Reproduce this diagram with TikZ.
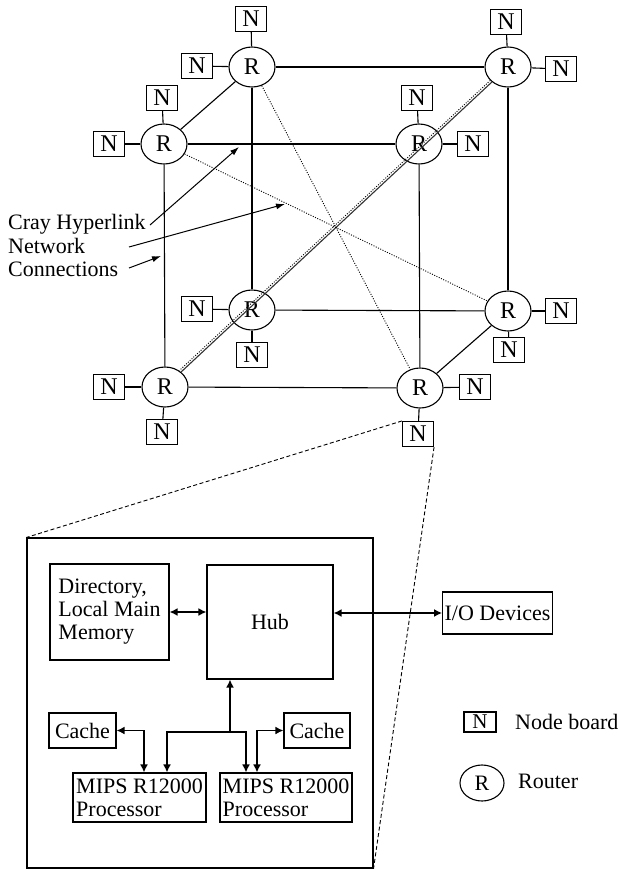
\documentclass[tikz,border=0pt]{standalone}
\usepackage{fontspec}
\setmainfont{Liberation Serif}
\usetikzlibrary{shapes.geometric,arrows.meta,calc}

\begin{document}
\begin{tikzpicture}[x=1pt,y=-1pt,
  txt/.style={font=\fontsize{22}{23}\selectfont},
  big/.style={font=\fontsize{24}{24}\selectfont},
  router/.style={ellipse,draw,line width=1.1pt,fill=white,minimum width=46pt,minimum height=40pt,inner sep=0pt,big},
  board/.style={rectangle,draw,line width=1.1pt,fill=white,minimum width=31pt,minimum height=25pt,inner sep=0pt,big},
  cubeedge/.style={line width=1.1pt},
  hyper/.style={line width=0.9pt,dash pattern=on 1pt off 1.5pt},
  zoomline/.style={line width=0.9pt,dash pattern=on 4pt off 2.5pt},
  blk/.style={rectangle,draw,line width=1.1pt,inner sep=2pt,txt},
  bus/.style={line width=1.8pt,-{Latex[length=8pt,width=8pt]}},
  bibus/.style={line width=1.8pt,{Latex[length=8pt,width=8pt]}-{Latex[length=8pt,width=8pt]}},
  pointer/.style={line width=1pt,-{Latex[length=9pt,width=6pt]}},
]
\useasboundingbox (0,0) rectangle (619,870);
\fill[white] (0,0) rectangle (619,870);

% ---- routers of the cube ----
\node[router] (TBL) at (252,67)  {R};
\node[router] (TBR) at (508,67)  {R};
\node[router] (TFL) at (164,144) {R};
\node[router] (TFR) at (419,144) {R};
\node[router] (BBL) at (252,310) {R};
\node[router] (BBR) at (508,311) {R};
\node[router] (BFL) at (165,387) {R};
\node[router] (BFR) at (420,388) {R};

% ---- node boards ----
\node[board] (nTBLa) at (251,19)  {N};
\node[board] (nTBLb) at (197,66)  {N};
\node[board] (nTBRa) at (506,22)  {N};
\node[board] (nTBRb) at (561,69)  {N};
\node[board] (nTFLa) at (162,98)  {N};
\node[board] (nTFLb) at (109,144) {N};
\node[board] (nTFRa) at (417,98)  {N};
\node[board] (nTFRb) at (473,144) {N};
\node[board] (nBBLa) at (197,309) {N};
\node[board] (nBBLb) at (252,355) {N};
\node[board] (nBBRa) at (561,311) {N};
\node[board] (nBBRb) at (509,350) {N};
\node[board] (nBFLa) at (109,387) {N};
\node[board] (nBFLb) at (162,432) {N};
\node[board] (nBFRa) at (475,387) {N};
\node[board] (nBFRb) at (418,434) {N};

% router to board links
\foreach \r/\b in {TBL/nTBLa,TBL/nTBLb,TBR/nTBRa,TBR/nTBRb,TFL/nTFLa,TFL/nTFLb,
                   TFR/nTFRa,TFR/nTFRb,BBL/nBBLa,BBL/nBBLb,BBR/nBBRa,BBR/nBBRb,
                   BFL/nBFLa,BFL/nBFLb,BFR/nBFRa,BFR/nBFRb}
  \draw[cubeedge] (\r) -- (\b);

% cube edges
\draw[cubeedge] (TBL) -- (TBR);
\draw[cubeedge] (TFL) -- (TFR);
\draw[cubeedge] (TBL) -- (TFL);
\draw[cubeedge] (BBL) -- (BBR);
\draw[cubeedge] (BFL) -- (BFR);
\draw[cubeedge] (BBR) -- (BFR);
\draw[cubeedge] (TBL) -- (BBL);
\draw[cubeedge] (TBR) -- (BBR);
\draw[cubeedge] (TFL) -- (BFL);
\draw[cubeedge] (TFR) -- (BFR);

% long diagonal through the cube, solid and dotted side by side
\draw[cubeedge,black!80] (TBR) -- (BFL);
\draw[hyper] ([xshift=-1.6pt,yshift=1.6pt]TBR.223) -- ([xshift=-1.6pt,yshift=1.6pt]BFL.43);

% hyperlink diagonals
\draw[hyper] (TBL) -- (BFR);
\draw[hyper] (TFL) -- (BBR);

% ---- label with pointers ----
\node[txt,anchor=base west,inner sep=0pt] (lab1) at (8,229) {Cray Hyperlink};
\node[txt,anchor=base west,inner sep=0pt] (lab2) at (8,253) {Network};
\node[txt,anchor=base west,inner sep=0pt] (lab3) at (8,276) {Connections};
\coordinate (p1s) at (150,225); \coordinate (p1e) at (239,147);
\coordinate (p2s) at (129,247); \coordinate (p2e) at (285,204);
\coordinate (p3s) at (129,268); \coordinate (p3e) at (161,256);
\draw[pointer] (p1s) -- (p1e);
\draw[pointer] (p2s) -- (p2e);
\draw[pointer] (p3s) -- (p3e);

% ---- node board detail ----
\node[draw,line width=1.1pt,minimum width=346pt,minimum height=330pt,inner sep=0pt] (Big) at (200,703) {};
\node[blk,align=left,minimum width=119pt,minimum height=96pt] (Dir) at (109.5,612) {Directory,\\Local Main\\Memory};
\node[blk,minimum width=126pt,minimum height=114pt] (Hub) at (270,622) {Hub};
\node[blk,minimum width=99pt,minimum height=42pt] (IO) at (497.5,613) {I/O Devices};
\node[blk,minimum width=67pt,minimum height=35pt] (C1) at (82.5,730.5) {Cache};
\node[blk,minimum width=66pt,minimum height=35pt] (C2) at (317,730.5) {Cache};
\node[blk,align=left,minimum width=133pt,minimum height=49pt] (M1) at (139.5,797.5) {MIPS R12000\\Processor};
\node[blk,align=left,minimum width=132pt,minimum height=49pt] (M2) at (286,797.5) {MIPS R12000\\Processor};

\draw[bibus] (Dir.east) -- (Dir.east -| Hub.west);
\draw[bibus] (IO.west) -- (IO.west -| Hub.east);
\coordinate (J) at (230,732);
\draw[bus] (J) -- (J |- Hub.south);
\draw[bus] (J) -| (167,0 |- M1.north);
\draw[bus] (J) -| (246,0 |- M2.north);
\draw[bibus] (C1.east) -| (144,0 |- M1.north);
\draw[bibus] (C2.west) -| (257,0 |- M2.north);

% magnification lines
\draw[zoomline] (nBFRb.north west) -- (Big.north west);
\draw[zoomline] (nBFRb.south east) -- (Big.south east);

% ---- legend ----
\node[board,minimum width=32pt,minimum height=20pt,font=\fontsize{21}{22}\selectfont] (LN) at (480,722) {N};
\node[txt,anchor=west,inner sep=0pt] (LNt) at (515,722) {Node board};
\node[router,minimum width=44pt,minimum height=36pt,font=\fontsize{22}{22}\selectfont] (LR) at (482,783) {R};
\node[txt,anchor=west,inner sep=0pt] (LRt) at (518,781) {Router};
\end{tikzpicture}
\end{document}
